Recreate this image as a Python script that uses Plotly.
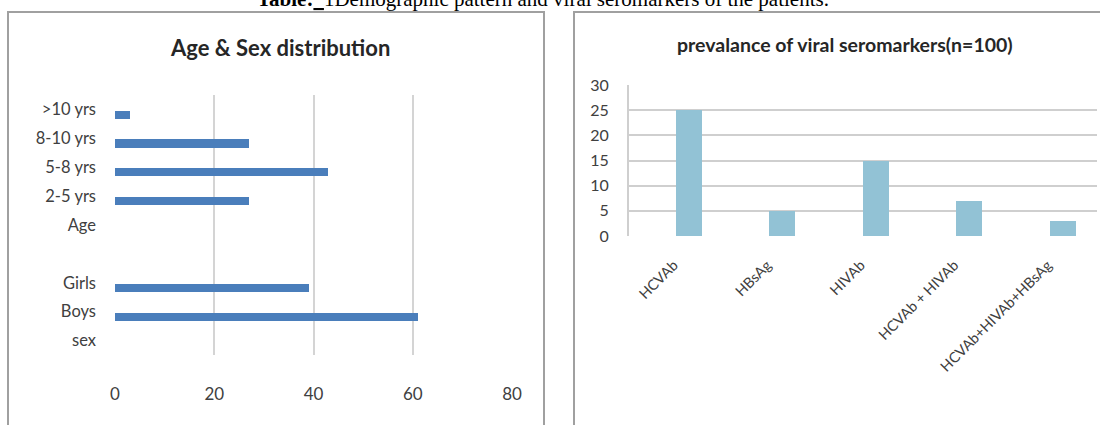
import plotly.graph_objects as go

# Left chart data (bottom to top)
age_sex_labels = ["sex", "Boys", "Girls", " ", "Age", "2-5 yrs", "5-8 yrs", "8-10 yrs", ">10 yrs"]
age_sex_values = [None, 61, 39, None, None, 27, 43, 27, 3]
age_ticks = [0, 20, 40, 60, 80]

# Right chart data
marker_labels = ["HCVAb", "HBsAg", "HIVAb", "HCVAb + HIVAb", "HCVAb+HIVAb+HBsAg"]
marker_values = [25, 5, 15, 7, 3]
marker_ticks = [0, 5, 10, 15, 20, 25, 30]

W, H = 1100, 425
def px(x):
    return x / W
def py(y):
    return 1 - y / H

FONT = "Lato"
TXT = "#404040"
GRID = "#d4d4d4"

fig = go.Figure()

fig.add_trace(go.Bar(
    x=age_sex_values, y=age_sex_labels, orientation="h",
    marker=dict(color="#4a7ebb", line=dict(width=0)),
    width=0.28, offset=-0.32,
    xaxis="x", yaxis="y", showlegend=False, hoverinfo="x+y",
))

fig.add_trace(go.Bar(
    x=marker_labels, y=marker_values,
    marker=dict(color="#92c2d5", line=dict(width=0)),
    width=0.28, offset=0.0,
    xaxis="x2", yaxis="y2", showlegend=False,
))

shapes = [
    dict(type="rect", xref="paper", yref="paper", x0=px(8), x1=px(544), y0=-0.05, y1=py(12),
         line=dict(color="#a0a0a0", width=2), layer="below"),
    dict(type="rect", xref="paper", yref="paper", x0=px(574), x1=1.05, y0=-0.05, y1=py(12),
         line=dict(color="#a0a0a0", width=2), layer="below"),
]

fig.update_layout(
    template="none",
    width=W, height=H, autosize=False,
    margin=dict(l=0, r=0, t=0, b=0, pad=0),
    paper_bgcolor="white", plot_bgcolor="white",
    font=dict(family=FONT, color=TXT),
    shapes=shapes,
    bargap=0,
    xaxis=dict(
        domain=[px(115), px(512)], range=[0, 80], tickvals=age_ticks, automargin=False,
        showgrid=True, gridcolor=GRID, gridwidth=2, zeroline=False,
        showline=False, ticks="", tickfont=dict(size=17, color=TXT, family=FONT),
        ticklabelstandoff=27, fixedrange=True,
    ),
    yaxis=dict(
        domain=[py(355), py(95)], type="category", automargin=False,
        categoryorder="array", categoryarray=age_sex_labels,
        range=[-0.5, 8.5], showgrid=False, zeroline=False, showline=False, ticks="",
        tickfont=dict(size=16.5, color=TXT, family=FONT), ticklabelstandoff=18,
        fixedrange=True,
    ),
    xaxis2=dict(
        domain=[px(629), px(1096.5)], anchor="y2", type="category", automargin=False,
        range=[-0.5, 4.5], showgrid=False, showline=False, ticks="",
        tickangle=-45, tickfont=dict(size=14.5, color=TXT, family=FONT),
        ticklabelstandoff=17, ticklabelshift=-2, fixedrange=True,
    ),
    yaxis2=dict(
        domain=[py(236), py(85)], anchor="x2", range=[0, 30], tickvals=marker_ticks,
        automargin=False,
        showgrid=True, gridcolor="#cfcfcf", gridwidth=2, zeroline=False,
        showline=True, linecolor="#cfcfcf", linewidth=2, ticks="",
        tickfont=dict(size=16, color=TXT, family=FONT), ticklabelstandoff=15,
        fixedrange=True,
    ),
    annotations=[
        dict(text="<b>Age &amp; Sex distribution</b>", xref="paper", yref="paper",
             x=px(280), y=py(48), xanchor="center", yanchor="middle", showarrow=False,
             font=dict(size=22, color="#262626", family=FONT)),
        dict(text="<b>prevalance of viral seromarkers(n=100)</b>", xref="paper", yref="paper",
             x=px(845), y=py(45), xanchor="center", yanchor="middle", showarrow=False,
             font=dict(size=19.5, color="#262626", family=FONT)),
        dict(text="<b>Table:</b><u>  </u>1Demographic pattern and viral seromarkers of the patients.",
             xref="paper", yref="paper", x=px(543), y=py(-1), xanchor="center", yanchor="middle",
             showarrow=False, font=dict(size=21, color="black", family="Liberation Serif")),
    ],
)

fig.write_html("out.html", post_script="document.body.style.margin='0';",
               config={"displayModeBar": False})
